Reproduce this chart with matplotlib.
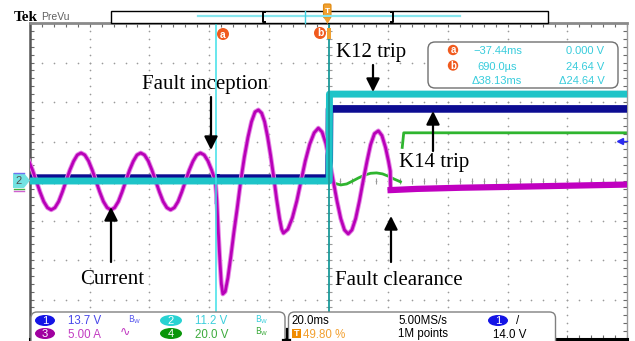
#!/usr/bin/env python
# Scope capture: breaker trip test (fault inception -> K12/K14 trip -> clearance)

import numpy as np
import matplotlib
matplotlib.use("Agg")
import matplotlib.pyplot as plt
from matplotlib.patches import FancyBboxPatch, Rectangle, Polygon, Ellipse, Circle

# scope settings
ch1_scale = 13.7     # V/div
ch2_scale = 11.2     # V/div
ch3_scale = 5.0      # A/div
ch4_scale = 20.0     # V/div
time_div = 20.0      # ms/div
trig_pos = 0.498     # trigger at 49.80 % of screen
trig_level = 14.0    # V on ch1

cursor_a = -37.44    # ms
cursor_b = 0.690     # ms

# ch3 - line current (A), before the fault
pre_t = [-100.0, -98.75, -97.5, -96.25, -95.0, -93.75, -92.5, -91.25, -90.0, -88.75,
         -87.5, -86.25, -85.0, -83.75, -82.5, -81.25, -80.0, -78.75, -77.5, -76.25,
         -75.0, -73.75, -72.5, -71.25, -70.0, -68.75, -67.5, -66.25, -65.0, -63.75,
         -62.5, -61.25, -60.0, -58.75, -57.5, -56.25, -55.0, -53.75, -52.5, -51.25,
         -50.0, -48.75, -47.5, -46.25, -45.0, -43.75, -42.5, -41.25, -40.0, -38.75,
         -37.5]
pre_i = [2.55, 1.38, 0.0, -1.38, -2.6, -3.38, -3.65, -3.38, -2.6, -1.38,
         0.0, 1.38, 2.5, 3.3, 3.55, 3.3, 2.55, 1.38, 0.0, -1.38,
         -2.6, -3.38, -3.65, -3.38, -2.6, -1.38, 0.0, 1.38, 2.5, 3.3,
         3.55, 3.3, 2.55, 1.38, 0.0, -1.38, -2.6, -3.38, -3.65, -3.38,
         -2.6, -1.38, 0.0, 1.38, 2.5, 3.3, 3.55, 3.3, 2.55, 1.38,
         0.0]

# ch3 during the fault
flt_t = [-37.0, -36.5, -36.0, -35.5, -35.0, -34.2, -33.3, -32.3, -31.3, -30.2,
         -29.0, -27.8, -26.6, -25.4, -24.2, -23.1, -22.0, -21.0, -20.0, -19.0,
         -18.0, -17.0, -16.0, -15.3, -14.7, -13.2, -11.7, -10.2, -8.8, -7.4,
         -5.9, -4.4, -3.0, -1.75, -0.5, 0.75, 2.0, 3.25, 4.5, 5.75,
         7.0, 8.25, 9.5, 10.75, 12.0, 13.3, 14.5, 15.8, 17.1, 18.3,
         19.5, 20.5, 21.1, 21.2]
flt_i = [-2.5, -6.5, -10.0, -13.0, -14.3, -14.0, -12.25, -9.5, -6.5, -3.5,
         0.0, 3.0, 5.5, 7.5, 8.75, 9.0, 8.6, 7.5, 5.6, 3.25,
         0.6, -2.25, -4.75, -6.1, -6.6, -6.1, -4.65, -2.5, 0.0, 2.5,
         4.65, 6.1, 6.7, 6.2, 4.75, 2.55, 0.0, -2.55, -4.75, -6.2,
         -6.7, -6.2, -4.75, -2.55, 0.0, 2.5, 4.6, 6.0, 6.35, 5.75,
         4.25, 2.5, 1.25, -1.1]

# ch3 after clearance
post_t = [21.2, 30.0, 45.0, 60.0, 80.0, 100.4]
post_i = [-1.15, -1.0, -0.85, -0.75, -0.6, -0.45]

# ch1 - trip signal (V)
ch1_t = [-100.0, -37.45, -37.4, -37.25, 0.6, 0.75, 100.4]
ch1_v = [1.0, 1.0, -8.0, 1.0, 1.0, 25.0, 25.0]

# ch2 - trip signal (V)
ch2_t = [-100.0, 0.65, 0.72, 100.4]
ch2_v = [0.0, 0.0, 24.64, 24.64]

# ch4 - trip signal (V)
ch4_t = [-100.0, 1.0, 2.5, 4.5, 6.5, 8.5, 10.5, 12.5, 14.5, 16.5, 18.5, 20.5, 22.5,
         24.5, 25.0, 25.1, 25.6, 100.4]
ch4_v = [0.0, 0.0, -1.2, -2.0, -1.5, 0.0, 1.6, 3.0, 3.9, 4.1, 3.6, 2.4, 0.9,
         -0.4, np.nan, 17.0, 24.4, 24.4]

sans = ["Liberation Sans", "DejaVu Sans"]
serif = "Liberation Serif"

W, H = 635, 341
gx0, gx1, gy0, gy1 = 30, 627, 23, 339   # graticule, pixels

fig = plt.figure(figsize=(W/100, H/100), dpi=100)
ax = fig.add_axes([gx0/W, 1 - gy1/H, (gx1 - gx0)/W, (gy1 - gy0)/H])
xmin = -trig_pos * 10 * time_div
xmax = xmin + 10 * time_div
ax.set_xlim(xmin, xmax)
ax.set_ylim(-4, 4)

# graticule
gx = np.linspace(xmin, xmax, 51)
gy = np.linspace(-4, 4, 41)
for k in range(1, 10):
    ax.plot(np.full(gy.size, xmin + k*time_div), gy, ls="none", marker="o",
            ms=1.2, mew=0, color="#9a9a9a", zorder=1)
for k in range(-3, 4):
    ax.plot(gx, np.full(gx.size, k), ls="none", marker="o",
            ms=1.2, mew=0, color="#9a9a9a", zorder=1)
ax.plot(gx, np.zeros(gx.size), ls="none", marker="|", ms=4, mew=0.8, color="#9a9a9a", zorder=1)
ax.plot(np.full(gy.size, xmin + 5*time_div), gy, ls="none", marker="_", ms=4, mew=0.8,
        color="#9a9a9a", zorder=1)
ax.set_xticks(gx)
ax.set_yticks(gy)
ax.tick_params(direction="in", length=3, width=0.8, color="#6a6a6a", top=True, right=True,
               labelbottom=False, labelleft=False)
ax.spines["left"].set(color="#555555", lw=1.8)
ax.spines["top"].set(color="#8a8a8a", lw=2)
ax.spines["right"].set(color="#9a9a9a", lw=1)
ax.spines["bottom"].set(color="black", lw=2.2)

# traces
ax.plot(ch4_t, np.array(ch4_v)/ch4_scale, color="#2fb52f", lw=2, zorder=2)
ch1_div = np.array(ch1_v)/ch1_scale
ax.plot(ch1_t, ch1_div, color="#1e1ec8", lw=1.2, zorder=3)
ax.plot(ch1_t, np.where(ch1_div < 0, np.nan, ch1_div), color="#0c0c92", lw=5.5, zorder=3)
cur_t = pre_t + flt_t
cur_i = pre_i + flt_i
ax.plot(cur_t, np.array(cur_i)/ch3_scale, color="#e486e4", lw=3.4, zorder=4)
ax.plot(cur_t, np.array(cur_i)/ch3_scale, color="#b800b8", lw=2.0, zorder=4)
ax.plot(post_t, np.array(post_i)/ch3_scale, color="#c000c0", lw=4.5, zorder=4)
ax.plot(ch2_t, np.array(ch2_v)/ch2_scale, color="#1ec4c8", lw=5, zorder=5)

# cursors
ax.axvline(cursor_a, color="#3fe0e8", lw=1.1, zorder=6)
ax.axvline(cursor_b, color="#1a9a9a", lw=1.3, zorder=6)

# ch1 trigger level marker on the right edge
tr = ax.get_yaxis_transform()
ax.plot([0.989], [trig_level/ch1_scale], marker="<", ms=5, color="#2b2bf0", transform=tr,
        clip_on=False, zorder=7)
ax.plot([0.989, 1.0], [trig_level/ch1_scale]*2, color="#2b2bf0", lw=1, transform=tr,
        clip_on=False, zorder=7)

# overlay in pixel coordinates
ov = fig.add_axes([0, 0, 1, 1], zorder=10)
ov.set_xlim(0, W)
ov.set_ylim(H, 0)
ov.axis("off")

# header
ov.text(14, 21, "Tek", family=serif, weight="bold", fontsize=11, va="baseline")
ov.text(41, 20, "PreVu", family=sans, fontsize=7.5, color="#606060", va="baseline")
ov.add_patch(Rectangle((110.5, 10.5), 437, 12.5, fc="white", ec="black", lw=1))
ov.plot([198, 460], [15.5, 15.5], color="#86e6ee", lw=1.6)
ov.plot([305, 305], [10.5, 23], color="#40d0e0", lw=1)
ov.plot([265, 263, 263, 265], [11.5, 11.5, 21.5, 21.5], color="black", lw=1.4)
ov.plot([391, 393, 393, 391], [11.5, 11.5, 21.5, 21.5], color="black", lw=1.4)
# trigger position marker
ov.add_patch(FancyBboxPatch((323.5, 4), 7.5, 14, boxstyle="round,pad=0,rounding_size=1.5",
                            fc="#f0a030", ec="#e08a10", lw=0.8))
ov.text(327.3, 11.5, "T", fontsize=6, color="white", weight="bold", ha="center", va="center",
        family=sans)
ov.add_patch(Polygon([(324, 18), (331, 18), (327.5, 24)], fc="#f0a030", ec="none"))

# cursor tags
for cx, cy, s in [(223, 34, "a"), (320, 33, "b")]:
    ov.add_patch(Circle((cx, cy), 6, fc="#f05a1e", ec="none"))
    ov.text(cx, cy + 0.5, s, fontsize=7.5, color="white", weight="bold", ha="center",
            va="center", family=sans)
ov.add_patch(Rectangle((326.5, 28), 4, 11, fc="#f0a030", ec="none"))

# channel 2 ground marker
ov.plot([14, 24], [172.5, 172.5], color="#7070f0", lw=1)
ov.plot([14, 24], [189, 189], color="#40b040", lw=1)
ov.plot([14, 24], [190.5, 190.5], color="#d060d0", lw=1)
ov.add_patch(Polygon([(13, 173), (24, 173), (30, 180.5), (24, 188), (13, 188)],
                     fc="#72e2e2", ec="none"))
ov.text(19, 181, "2", fontsize=8, color="#505050", ha="center", va="center", family=sans)

# cursor readout
ov.add_patch(FancyBboxPatch((428, 42), 190, 46, boxstyle="round,pad=0,rounding_size=7",
                            fc="white", ec="#707070", lw=1))
rc = "#38ccdc"
for cy, s in [(50, "a"), (65.5, "b")]:
    ov.add_patch(Circle((453, cy), 5.2, fc="#f05a1e", ec="none"))
    ov.text(453, cy + 0.3, s, fontsize=7, color="white", weight="bold", ha="center",
            va="center", family=sans)
ov.text(473, 54, "\u221237.44ms", fontsize=8, color=rc, family=sans, va="baseline")
ov.text(604, 54, "0.000 V", fontsize=8, color=rc, family=sans, va="baseline", ha="right")
ov.text(477, 69.5, "690.0\u00b5s", fontsize=8, color=rc, family=sans, va="baseline")
ov.text(604, 69.5, "24.64 V", fontsize=8, color=rc, family=sans, va="baseline", ha="right")
ov.text(472, 83.5, "\u039438.13ms", fontsize=8, color=rc, family=sans, va="baseline")
ov.text(605, 83.5, "\u039424.64 V", fontsize=8, color=rc, family=sans, va="baseline", ha="right")

# annotations
def label(x, y, s, ha="left"):
    ov.text(x, y, s, fontsize=15, family=serif, ha=ha, va="baseline", color="black")

def arrow(x, ya, yb):
    ov.annotate("", xy=(x, yb), xytext=(x, ya),
                arrowprops=dict(arrowstyle="-|>", lw=1.6, color="black", mutation_scale=20,
                                shrinkA=0, shrinkB=0))

label(268, 89, "Fault inception", ha="right")
arrow(211, 97, 150)
label(336, 57, "K12 trip")
arrow(373, 65, 92)
label(399, 167, "K14 trip")
arrow(433, 151, 111)
label(80, 284, "Current")
arrow(111, 262, 207)
label(335, 285, "Fault clearance")
arrow(391, 262, 216)

# status panel
ov.add_patch(FancyBboxPatch((31, 312), 254, 45, boxstyle="round,pad=0,rounding_size=6",
                            fc="white", ec="#808080", lw=1))
ov.add_patch(FancyBboxPatch((288.5, 312), 267, 45, boxstyle="round,pad=0,rounding_size=6",
                            fc="white", ec="#808080", lw=1))
ov.plot([286.8, 286.8], [329, 341], color="black", lw=1.6)
ov.plot([283, 290], [340, 340], color="black", lw=1.6)

def oval(cx, cy, w, s, c):
    ov.add_patch(Ellipse((cx, cy), w, 11, fc=c, ec="none"))
    ov.text(cx, cy + 0.5, s, fontsize=8, color="white", ha="center", va="center", family=sans)

def ptxt(x, y, s, c, ha="left", size=8.3):
    ov.text(x, y, s, fontsize=size, color=c, ha=ha, va="baseline", family=sans)

oval(45, 320.5, 20, "1", "#1414e6")
ptxt(68, 324.5, "13.7 V", "#4646ea")
ptxt(128, 322, r"$\mathrm{B_W}$", "#5a5aee", size=6)
oval(171, 320.5, 22, "2", "#28d2d2")
ptxt(195, 324.5, "11.2 V", "#3ccfdc")
ptxt(255, 322, r"$\mathrm{B_W}$", "#3ccfdc", size=6)
oval(45, 333.5, 20, "3", "#a000a0")
ptxt(68, 337.5, "5.00 A", "#c23cc2")
ptxt(120, 336, "\u223f", "#c23cc2", size=9)
oval(171, 333.5, 22, "4", "#0a960a")
ptxt(195, 337.5, "20.0 V", "#3caa3c")
ptxt(255, 335, r"$\mathrm{B_W}$", "#3caa3c", size=6)

ptxt(291, 324.5, "20.0ms", "black")
ptxt(398, 324.5, "5.00MS/s", "black")
oval(498, 320.5, 20, "1", "#1414e6")
ptxt(516, 324.5, "/", "black")
ov.add_patch(Rectangle((292, 328.5), 8.5, 9.5, fc="#f08c00", ec="none"))
ov.text(296.2, 333.5, "T", fontsize=6.5, color="white", weight="bold", ha="center",
        va="center", family=sans)
ptxt(303, 337.5, "49.80 %", "#f2a030")
ptxt(398, 337.5, "1M points", "black")
ptxt(493, 337.5, "14.0 V", "black")

fig.savefig("out.png", dpi=100, facecolor="white")
